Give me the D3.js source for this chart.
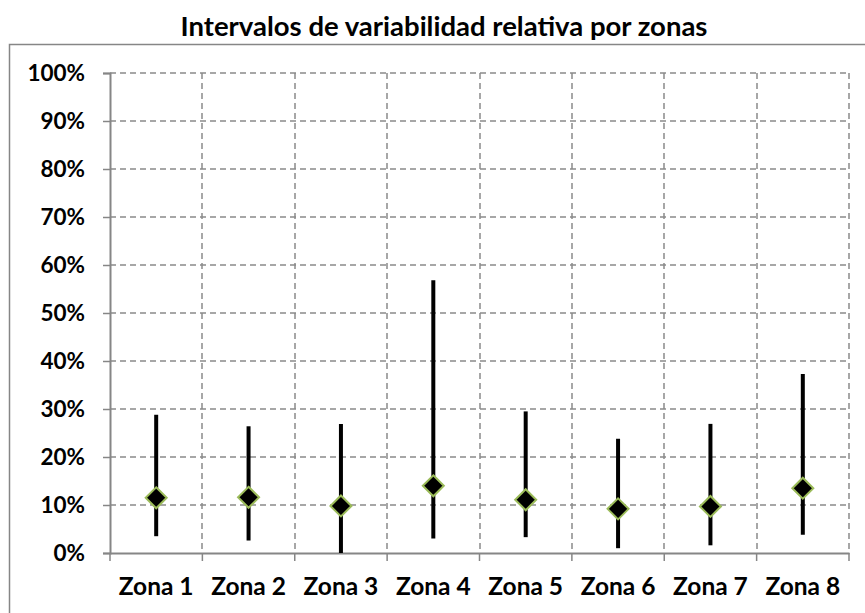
<!DOCTYPE html>
<html>
<head>
<meta charset="utf-8">
<script src="https://cdn.jsdelivr.net/npm/d3@7"></script>
<style>
  body { margin: 0; background: #fff; }
  text { font-family: Lato, "Open Sans", sans-serif; font-weight: bold; fill: #000; }
</style>
</head>
<body>
<svg id="chart" width="865" height="613"></svg>
<script>
var zonas = ["Zona 1", "Zona 2", "Zona 3", "Zona 4", "Zona 5", "Zona 6", "Zona 7", "Zona 8"];
var minimos = [0.035, 0.026, 0.000, 0.030, 0.033, 0.010, 0.016, 0.038];
var maximos = [0.288, 0.264, 0.269, 0.568, 0.295, 0.238, 0.269, 0.373];
var medias = [0.115, 0.116, 0.098, 0.140, 0.111, 0.092, 0.097, 0.135];
var yTicks = [0, 0.1, 0.2, 0.3, 0.4, 0.5, 0.6, 0.7, 0.8, 0.9, 1.0];

var margin = {top: 73, right: 16, bottom: 60, left: 110};
var width = 865 - margin.left - margin.right,
    height = 613 - margin.top - margin.bottom;

var data = zonas.map(function(z, i) {
    return {zona: z, lo: minimos[i], hi: maximos[i], mid: medias[i]};
});

var svg = d3.select("#chart");

// marco exterior (cortado por la derecha y abajo)
svg.append("rect")
    .attr("x", 9.5).attr("y", 44.5)
    .attr("width", 900).attr("height", 700)
    .attr("fill", "none")
    .attr("stroke", "#868686")
    .attr("stroke-width", 1.5);

svg.append("text")
    .attr("x", 444)
    .attr("y", 36)
    .attr("text-anchor", "middle")
    .style("font-size", "27.5px")
    .text("Intervalos de variabilidad relativa por zonas");

var g = svg.append("g")
    .attr("transform", "translate(" + margin.left + "," + margin.top + ")");

var xs = d3.scaleBand().domain(zonas).range([0, width]);
var ys = d3.scaleLinear().domain([0, 1]).range([height, 0]);

// rejilla horizontal
g.append("g")
    .selectAll("line")
    .data(yTicks.slice(1))
    .enter().append("line")
        .attr("x1", 0).attr("x2", width)
        .attr("y1", d => Math.round(ys(d)))
        .attr("y2", d => Math.round(ys(d)))
        .attr("stroke", "#8a8a8a")
        .attr("stroke-width", 1.5)
        .attr("stroke-dasharray", "6,4");

// rejilla vertical
var bounds = zonas.map(z => xs(z) + xs.bandwidth());
g.append("g")
    .selectAll("line")
    .data(bounds)
    .enter().append("line")
        .attr("x1", d => Math.round(d))
        .attr("x2", d => Math.round(d))
        .attr("y1", 0).attr("y2", height)
        .attr("stroke", "#8a8a8a")
        .attr("stroke-width", 1.5)
        .attr("stroke-dasharray", "6,4");

// eje y
var yAxis = g.append("g")
    .call(d3.axisLeft(ys).tickValues(yTicks).tickFormat(d3.format(".0%")).tickSize(7).tickPadding(18));
yAxis.select(".domain").attr("stroke", "#868686").attr("stroke-width", 2);
yAxis.selectAll(".tick line").attr("stroke", "#868686").attr("stroke-width", 1.5);
yAxis.selectAll("text").style("font-size", "22.5px").attr("font-family", null);

// eje x
var xAxis = g.append("g")
    .attr("transform", "translate(0," + height + ")")
    .call(d3.axisBottom(xs).tickSize(0).tickPadding(25));
xAxis.select(".domain").attr("stroke", "#868686").attr("stroke-width", 2);
xAxis.selectAll("text").style("font-size", "24.5px").attr("font-family", null);
xAxis.selectAll(".sep")
    .data([0].concat(bounds))
    .enter().append("line")
        .attr("class", "sep")
        .attr("x1", d => d).attr("x2", d => d)
        .attr("y1", 0).attr("y2", 8)
        .attr("stroke", "#868686")
        .attr("stroke-width", 1.5);

// intervalos
var cx = d => xs(d.zona) + xs.bandwidth() / 2;
g.append("g")
    .selectAll("line")
    .data(data)
    .enter().append("line")
        .attr("x1", cx).attr("x2", cx)
        .attr("y1", d => ys(d.lo))
        .attr("y2", d => ys(d.hi))
        .attr("stroke", "#000")
        .attr("stroke-width", 4);

// media (rombo)
var r = 10.5;
var rombo = "M0," + (-r) + "L" + r + ",0L0," + r + "L" + (-r) + ",0Z";
g.append("g")
    .selectAll("path")
    .data(data)
    .enter().append("path")
        .attr("d", rombo)
        .attr("transform", d => "translate(" + cx(d) + "," + ys(d.mid) + ")")
        .attr("fill", "#000")
        .attr("stroke", "#9bbb59")
        .attr("stroke-width", 2);
</script>
</body>
</html>
